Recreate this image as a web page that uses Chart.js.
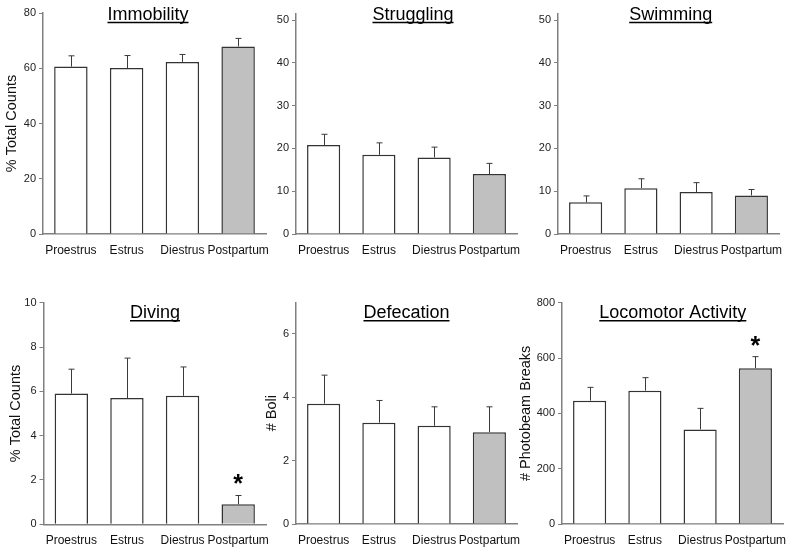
<!DOCTYPE html>
<html>
<head>
<meta charset="utf-8">
<script src="https://cdn.jsdelivr.net/npm/chart.js@4"></script>
<style>
  body { margin: 0; background: #fff; width: 800px; height: 548px; position: relative; overflow: hidden; }
  canvas { position: absolute; }
</style>
</head>
<body>
<script>
// values (mean and upward SEM)
const categories = ['Proestrus', 'Estrus', 'Diestrus', 'Postpartum'];
const immobilityMean = [60.6, 60.1, 62.3, 67.9];
const immobilitySem = [3.9, 4.5, 2.7, 2.9];
const strugglingMean = [20.8, 18.5, 17.9, 14.0];
const strugglingSem = [2.5, 2.8, 2.4, 2.5];
const swimmingMean = [7.4, 10.7, 9.8, 9.0];
const swimmingSem = [1.5, 2.2, 2.2, 1.4];
const divingMean = [5.9, 5.7, 5.8, 0.9];
const divingSem = [1.1, 1.8, 1.3, 0.4];
const defecationMean = [3.8, 3.2, 3.1, 2.9];
const defecationSem = [0.9, 0.7, 0.6, 0.8];
const locomotorMean = [446, 482, 342, 563];
const locomotorSem = [48, 47, 76, 42];
const divingSig = [false, false, false, true];
const locomotorSig = [false, false, false, true];

const FONT = '"Liberation Sans", Arial, sans-serif';
Chart.defaults.font.family = FONT;

// box = canvas [left, top, right, bottom], area = plot [left, top, right, bottom]
const panels = [
  { title: 'Immobility', mean: immobilityMean, sem: immobilitySem, max: 80, step: 20,
    yTitle: '% Total Counts', yTitleX: 11.5, box: [0, 0, 290, 270], area: [43, 13, 266, 234], titleX: 148, titleY: 20 },
  { title: 'Struggling', mean: strugglingMean, sem: strugglingSem, max: 51.5, step: 10,
    box: [260, 0, 540, 270], area: [296, 13.6, 517, 234], titleX: 413, titleY: 20 },
  { title: 'Swimming', mean: swimmingMean, sem: swimmingSem, max: 51.5, step: 10,
    box: [520, 0, 800, 270], area: [558, 13.6, 779, 234], titleX: 670.7, titleY: 20 },
  { title: 'Diving', mean: divingMean, sem: divingSem, sig: divingSig, max: 10, step: 2,
    yTitle: '% Total Counts', yTitleX: 16, box: [0, 270, 290, 548], area: [43.5, 302.7, 266, 524.3], titleX: 155, titleY: 318.3 },
  { title: 'Defecation', mean: defecationMean, sem: defecationSem, max: 7, step: 2,
    yTitle: '# Boli', yTitleX: 272, box: [255, 270, 540, 548], area: [296, 302.3, 517, 524], titleX: 406.5, titleY: 318.3 },
  { title: 'Locomotor Activity', mean: locomotorMean, sem: locomotorSem, sig: locomotorSig, max: 800, step: 200,
    yTitle: '# Photobeam Breaks', yTitleX: 526, box: [512, 270, 800, 548], area: [562, 302.7, 783, 524], titleX: 672.8, titleY: 318.3 },
];

function extrasPlugin(p) {
  return {
    id: 'extras',
    afterDatasetsDraw(chart) {
      const { ctx, scales: { y } } = chart;
      const bx = p.box[0], by = p.box[1];
      ctx.save();
      chart.getDatasetMeta(0).data.forEach((bar, i) => {
        const top = y.getPixelForValue(p.mean[i] + p.sem[i]);
        const x = Math.round(bar.x) + 0.5;
        ctx.strokeStyle = '#3a3a3a';
        ctx.lineWidth = 1;
        ctx.beginPath();
        ctx.moveTo(x, bar.y);
        ctx.lineTo(x, top);
        ctx.moveTo(x - 3, top);
        ctx.lineTo(x + 3, top);
        ctx.stroke();
        if (p.sig && p.sig[i]) {
          ctx.fillStyle = '#000';
          ctx.font = 'bold 25px ' + FONT;
          ctx.textAlign = 'center';
          ctx.textBaseline = 'alphabetic';
          ctx.fillText('*', bar.x, top - 3);
        }
      });
      // underlined panel title
      ctx.fillStyle = '#000';
      ctx.font = '18px ' + FONT;
      ctx.textAlign = 'center';
      ctx.textBaseline = 'alphabetic';
      const tx = p.titleX - bx, ty = p.titleY - by;
      ctx.fillText(p.title, tx, ty);
      const w = ctx.measureText(p.title).width;
      ctx.strokeStyle = '#000';
      ctx.lineWidth = 1.5;
      ctx.beginPath();
      ctx.moveTo(tx - w / 2, ty + 2.5);
      ctx.lineTo(tx + w / 2, ty + 2.5);
      ctx.stroke();
      ctx.restore();
    },
  };
}

panels.forEach(p => {
  const [bl, bt, br, bb] = p.box;
  const [al, at, ar, ab] = p.area;
  const cv = document.createElement('canvas');
  cv.width = br - bl;
  cv.height = bb - bt;
  cv.style.left = bl + 'px';
  cv.style.top = bt + 'px';
  document.body.appendChild(cv);

  new Chart(cv, {
    type: 'bar',
    data: {
      labels: categories,
      datasets: [{
        data: p.mean,
        backgroundColor: categories.map((_, i) => (i === 3 ? '#c0c0c0' : '#ffffff')),
        borderColor: '#333',
        borderWidth: 1.5,
        categoryPercentage: 1,
        barPercentage: 0.6,
      }],
    },
    options: {
      responsive: false,
      animation: false,
      layout: { padding: { left: 0, top: at - bt, right: br - ar, bottom: 0 } },
      plugins: { legend: { display: false }, tooltip: { enabled: false } },
      scales: {
        x: {
          offset: true,
          grid: { display: false, drawTicks: false },
          border: { display: true, color: '#808080', width: 1.5 },
          ticks: { color: '#111', font: { size: 12 }, padding: 9, maxRotation: 0, autoSkip: false },
          afterFit(s) { s.height = bb - ab; },
        },
        y: {
          min: 0,
          max: p.max,
          grid: { display: true, drawOnChartArea: false, drawTicks: true, tickLength: 4, color: '#808080', lineWidth: 1 },
          border: { display: true, color: '#808080', width: 1.5 },
          ticks: { stepSize: p.step, includeBounds: false, color: '#222', font: { size: 11 }, padding: 3 },
          title: p.yTitle ? {
            display: true, text: p.yTitle, color: '#111', font: { size: 14.5 },
            padding: { top: p.yTitleX - bl - 8.7, bottom: 0 },
          } : { display: false },
          afterFit(s) { s.width = al - bl; },
        },
      },
    },
    plugins: [extrasPlugin(p)],
  });
});
</script>
</body>
</html>
